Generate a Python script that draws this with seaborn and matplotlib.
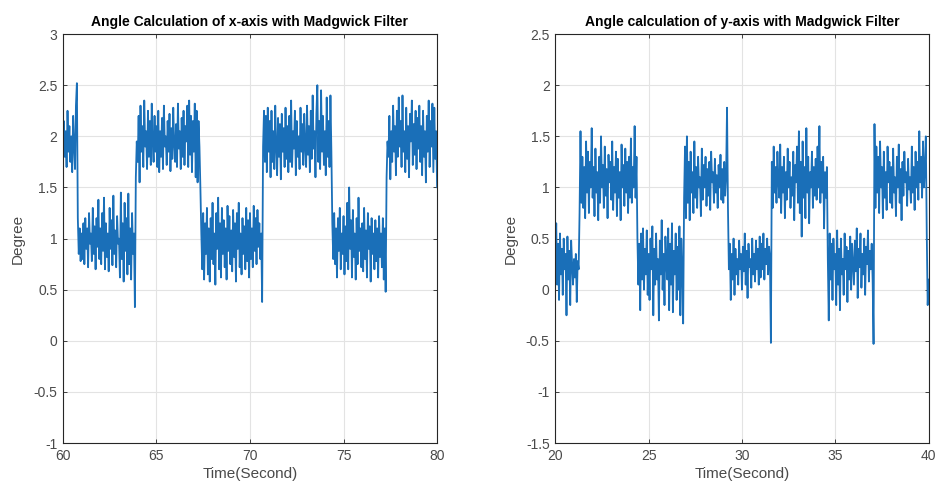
import numpy as np
import pandas as pd
import matplotlib
matplotlib.use('Agg')
import matplotlib.pyplot as plt
import seaborn as sns

# Угол по оси x (60..80 c, шаг 0.05 c)
x_start = 60.0
x_angle = [
    1.95, 2.15, 1.80, 2.05, 1.70, 2.25, 1.85, 2.10, 1.75, 2.00, 1.65, 2.20, 1.90, 1.68, 2.30, 2.52, 1.20, 0.85, 1.10, 0.78,
    1.05, 0.80, 1.15, 0.75, 1.20, 0.90, 1.10, 0.72, 1.25, 0.95, 1.05, 0.78, 1.30, 0.85, 1.12, 0.70, 1.20, 0.92, 1.38, 0.80,
    1.10, 0.75, 1.25, 0.88, 1.40, 0.70, 1.15, 0.82, 1.05, 0.68, 1.30, 0.90, 1.18, 0.74, 1.42, 0.85, 1.08, 0.72, 1.22, 0.95,
    1.00, 0.62, 1.45, 0.80, 1.15, 0.58, 1.35, 0.88, 1.20, 0.65, 1.44, 0.75, 1.10, 0.60, 1.25, 0.85, 1.05, 0.33, 1.60, 1.95,
    1.75, 2.20, 1.55, 2.30, 1.85, 2.10, 1.70, 2.35, 1.90, 2.05, 1.68, 2.25, 1.80, 2.15, 1.72, 2.32, 1.95, 1.75, 2.20, 1.85,
    2.10, 1.70, 2.25, 1.65, 2.05, 1.80, 2.18, 1.68, 2.30, 1.90, 2.00, 1.72, 2.15, 1.85, 2.22, 1.66, 2.08, 1.78, 2.28, 1.92,
    1.75, 2.12, 1.70, 2.32, 1.88, 2.05, 1.68, 2.18, 1.80, 2.25, 1.72, 2.10, 1.95, 2.30, 1.70, 2.35, 1.82, 2.20, 1.65, 2.15,
    1.85, 2.32, 1.60, 2.25, 1.55, 2.15, 1.90, 1.50, 1.05, 0.70, 1.25, 0.60, 1.15, 0.85, 1.30, 0.65, 1.10, 0.58, 1.20, 0.80,
    1.35, 0.75, 1.05, 0.55, 1.25, 0.90, 1.40, 0.70, 1.15, 0.62, 1.30, 0.85, 1.18, 0.72, 1.10, 0.60, 1.32, 0.88, 1.22, 0.75,
    1.08, 0.68, 1.28, 0.82, 1.15, 0.58, 1.25, 0.90, 1.35, 0.72, 1.05, 0.65, 1.20, 0.85, 1.12, 0.70, 1.30, 0.78, 1.18, 0.62,
    1.25, 0.80, 1.10, 0.72, 1.32, 0.88, 1.20, 0.75, 1.28, 0.92, 1.15, 0.80, 1.05, 0.38, 1.90, 2.25, 1.75, 2.20, 1.65, 2.28,
    1.85, 2.15, 1.60, 2.25, 1.75, 2.05, 1.68, 2.30, 1.90, 1.62, 2.18, 1.80, 2.12, 1.58, 2.22, 1.85, 2.08, 1.70, 2.28, 1.78,
    2.10, 1.65, 2.20, 1.75, 2.35, 1.70, 2.05, 1.88, 2.25, 1.62, 2.15, 1.80, 2.00, 1.68, 2.28, 1.85, 2.12, 1.72, 2.22, 1.90,
    1.70, 2.30, 1.82, 2.10, 1.65, 2.25, 1.78, 2.40, 1.88, 2.05, 1.60, 2.22, 2.50, 1.75, 2.15, 1.68, 2.45, 1.85, 2.20, 1.72,
    2.05, 1.62, 2.38, 1.80, 2.15, 1.70, 2.40, 1.85, 1.15, 0.80, 1.25, 0.75, 1.10, 0.62, 1.20, 0.88, 1.30, 0.70, 1.05, 0.85,
    1.22, 0.65, 1.12, 0.78, 1.35, 0.70, 1.50, 0.90, 1.18, 0.62, 1.28, 0.82, 1.05, 0.60, 1.20, 0.75, 1.40, 0.88, 1.10, 0.72,
    1.15, 0.68, 1.30, 0.80, 1.08, 0.62, 1.25, 0.90, 1.12, 0.58, 1.20, 0.85, 1.05, 0.70, 1.18, 0.78, 1.10, 0.62, 1.22, 0.82,
    1.05, 0.72, 1.20, 0.60, 1.10, 0.48, 1.60, 1.95, 1.80, 2.20, 1.58, 2.05, 1.75, 2.30, 1.85, 2.10, 1.62, 2.25, 1.80, 2.38,
    1.90, 2.15, 1.70, 2.40, 1.85, 2.05, 1.65, 2.28, 1.78, 2.10, 1.60, 2.22, 1.95, 2.35, 1.72, 2.12, 1.82, 2.25, 1.68, 2.18,
    1.88, 2.30, 1.75, 2.10, 1.62, 2.25, 1.80, 2.05, 1.55, 2.20, 1.85, 2.35, 1.70, 2.15, 1.90, 2.32, 1.65, 2.28, 1.78, 2.05,
    1.50,
]

# Угол по оси y (20..40 c, шаг 0.05 c)
y_start = 20.0
y_angle = [
    0.30, 0.65, 0.05, 0.45, -0.10, 0.55, 0.15, 0.40, -0.05, 0.50, 0.20, 0.35, -0.25, 0.52, 0.10, 0.38, -0.15, 0.48, 0.25, 0.05,
    0.30, 0.12, 0.35, -0.12, 0.28, 0.20, 0.75, 1.55, 0.85, 1.30, 0.80, 1.20, 0.70, 1.45, 0.95, 1.35, 0.75, 1.25, 1.00, 1.58,
    0.90, 1.20, 0.72, 1.38, 0.95, 1.15, 0.68, 1.30, 0.85, 1.50, 1.00, 1.22, 0.80, 1.40, 0.92, 1.18, 0.70, 1.32, 1.05, 1.25,
    0.88, 1.45, 0.78, 1.20, 0.95, 1.35, 0.72, 1.28, 0.90, 1.15, 0.68, 1.42, 1.00, 1.22, 0.82, 1.38, 0.95, 1.25, 0.75, 1.30,
    0.90, 1.48, 0.85, 1.20, 1.00, 1.60, 0.90, 1.30, 0.50, 0.05, 0.45, -0.20, 0.55, 0.10, 0.60, 0.00, 0.40, 0.15, 0.58, -0.05,
    0.35, -0.10, 0.50, 0.20, 0.62, -0.25, 0.40, 0.05, 0.55, 0.10, 0.30, -0.30, 0.48, 0.15, 0.68, 0.00, 0.35, -0.15, 0.52, 0.25,
    0.10, 0.60, -0.20, 0.45, 0.05, 0.65, -0.22, 0.38, 0.15, 0.55, -0.10, 0.42, 0.00, 0.62, -0.25, 0.50, 0.20, -0.33, 0.90, 1.40,
    0.70, 1.50, 0.85, 1.25, 0.68, 1.35, 0.95, 1.15, 0.75, 1.45, 0.90, 1.20, 0.80, 1.30, 1.00, 1.10, 0.72, 1.38, 0.88, 1.22,
    1.00, 1.30, 0.82, 1.18, 0.92, 1.25, 0.78, 1.35, 1.05, 1.15, 0.85, 1.28, 0.95, 1.12, 0.80, 1.22, 1.00, 1.32, 0.88, 1.18,
    0.85, 1.25, 0.92, 1.10, 1.78, 0.80, 0.20, 0.45, -0.10, 0.35, 0.10, 0.50, -0.05, 0.40, 0.15, 0.30, 0.05, 0.48, 0.20, 0.35,
    0.00, 0.42, 0.18, 0.55, 0.05, 0.38, -0.08, 0.45, 0.22, 0.30, 0.02, 0.50, 0.15, 0.35, 0.08, 0.48, 0.20, 0.40, 0.05, 0.52,
    0.12, 0.45, 0.20, 0.55, 0.10, 0.40, 0.25, 0.50, 0.15, 0.42, 0.30, -0.52, 1.25, 0.80, 1.40, 0.95, 1.20, 0.85, 1.35, 1.05,
    0.90, 1.42, 0.75, 1.20, 0.95, 1.30, 0.70, 1.15, 0.88, 1.38, 1.00, 1.25, 0.80, 1.10, 0.92, 1.35, 0.68, 1.22, 1.05, 1.40,
    0.85, 1.55, 0.75, 1.25, 0.52, 1.45, 0.90, 1.20, 0.70, 1.58, 0.95, 1.30, 0.65, 1.15, 1.00, 1.35, 0.80, 1.20, 0.92, 1.28,
    0.88, 1.40, 1.00, 1.60, 0.85, 1.25, 0.95, 1.30, 0.60, 1.15, 0.90, 1.20, 0.30, -0.30, 0.55, 0.10, 0.45, -0.10, 0.50, 0.20,
    0.35, -0.15, 0.58, 0.05, 0.40, -0.20, 0.50, 0.15, 0.30, -0.05, 0.55, 0.20, 0.42, -0.12, 0.38, 0.10, 0.52, 0.00, 0.45, 0.25,
    0.05, 0.48, 0.18, 0.60, -0.08, 0.40, 0.22, 0.55, 0.02, 0.35, 0.15, 0.50, -0.05, 0.42, 0.25, 0.58, 0.08, 0.38, 0.20, 0.45,
    0.10, -0.53, 1.62, 0.80, 1.40, 0.95, 1.30, 0.75, 1.45, 1.00, 1.20, 0.70, 1.35, 0.90, 1.15, 0.78, 1.40, 1.05, 1.25, 0.85,
    1.20, 0.80, 1.38, 0.95, 1.10, 0.72, 1.30, 1.00, 1.42, 0.85, 1.18, 0.68, 1.25, 0.92, 1.35, 1.05, 1.15, 0.82, 1.28, 0.98,
    1.10, 0.85, 1.40, 0.95, 1.20, 0.78, 1.35, 1.00, 1.25, 0.88, 1.55, 1.05, 1.30, 0.90, 1.45, 1.00, 1.20, 1.50, 0.55, -0.15,
    0.10,
]

sample_step = 0.05

titles = ['Angle Calculation of x-axis with Madgwick Filter',
          'Angle calculation of y-axis with Madgwick Filter']
x_limits = [(60, 80), (20, 40)]
y_limits = [(-1, 3), (-1.5, 2.5)]
y_ticks = [[-1, -0.5, 0, 0.5, 1, 1.5, 2, 2.5, 3],
           [-1.5, -1, -0.5, 0, 0.5, 1, 1.5, 2, 2.5]]
x_ticks = [[60, 65, 70, 75, 80], [20, 25, 30, 35, 40]]

LINE_COLOR = '#1a6fb8'

sns.set_style('whitegrid')
plt.rcParams['font.family'] = ['Liberation Sans', 'DejaVu Sans']

fig = plt.figure(figsize=(9.38, 4.94), dpi=100)
ax1 = fig.add_axes([0.067, 0.103, 0.399, 0.828])
ax2 = fig.add_axes([0.592, 0.103, 0.398, 0.828])


def tick_fmt(v):
    return f'{v:g}'


for i, (ax, start, vals) in enumerate([(ax1, x_start, x_angle), (ax2, y_start, y_angle)]):
    df = pd.DataFrame({'time': start + np.arange(len(vals)) * sample_step,
                       'angle': vals})
    sns.lineplot(data=df, x='time', y='angle', ax=ax, color=LINE_COLOR,
                 linewidth=1.3, estimator=None, sort=False)
    ax.set_xlim(*x_limits[i])
    ax.set_ylim(*y_limits[i])
    ax.set_xticks(x_ticks[i])
    ax.set_yticks(y_ticks[i])
    ax.set_xticklabels([tick_fmt(v) for v in x_ticks[i]])
    ax.set_yticklabels([tick_fmt(v) for v in y_ticks[i]])
    ax.grid(True, color='#e3e3e3', linewidth=0.8)
    for s in ax.spines.values():
        s.set_visible(True)
        s.set_color('#262626')
        s.set_linewidth(0.8)
    ax.tick_params(direction='in', length=3, width=0.6, colors='#262626',
                   labelcolor='#4a4a4a', labelsize=10, top=True, right=True,
                   bottom=True, left=True, pad=4)
    ax.set_title(titles[i], fontsize=10, fontweight='bold', color='black', pad=6)
    ax.set_xlabel('Time(Second)', fontsize=11, color='#4a4a4a', labelpad=3)
    ax.set_ylabel('Degree', fontsize=11, color='#4a4a4a', labelpad=6)

fig.savefig('out.png', dpi=100, facecolor='white')
